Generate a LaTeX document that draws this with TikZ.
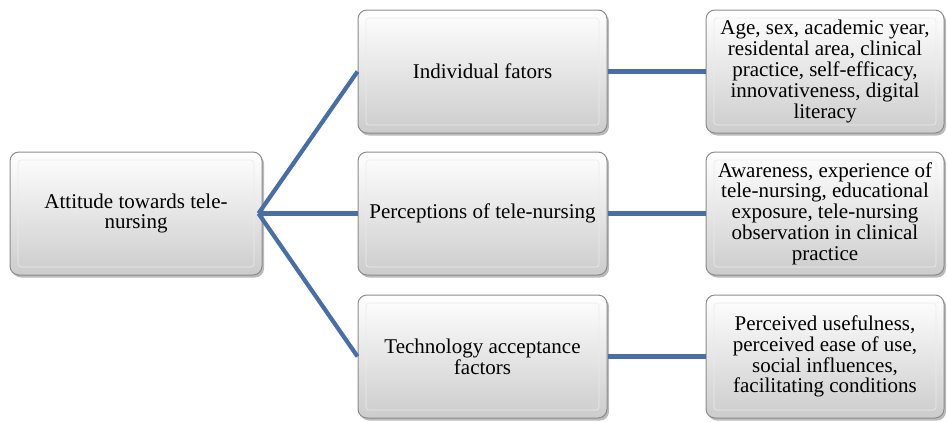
\documentclass[tikz,border=0pt]{standalone}
\usepackage{fontspec}
\setmainfont{Liberation Serif}
\usetikzlibrary{shadows}
\definecolor{linkblue}{RGB}{72,110,163}
\definecolor{boxedge}{RGB}{140,140,140}
\begin{document}
\begin{tikzpicture}[x=1pt,y=-1pt,
  panel/.style={rectangle, rounded corners=9pt, draw=boxedge, line width=1pt,
    top color=white, bottom color=black!20,
    drop shadow={shadow xshift=2pt, shadow yshift=-2.5pt, opacity=0.45, fill=black!60},
    minimum height=123pt, align=center, inner sep=0pt,
    font=\fontsize{21}{20.8}\selectfont,
    path picture={
      \draw[black!8, line width=0.6pt, rounded corners=3pt]
        ([shift={(8pt,-8pt)}]path picture bounding box.north west) rectangle
        ([shift={(-8pt,8pt)}]path picture bounding box.south east);
    }},
  rootbox/.style={panel, minimum width=252pt},
  midbox/.style={panel, minimum width=249pt},
  leafbox/.style={panel, minimum width=238pt},
  fan/.style={draw=linkblue, line width=4.2pt},
  link/.style={draw=linkblue, line width=5.5pt}]
\useasboundingbox (0,0) rectangle (947,421);

% root of the tree
\node[rootbox] (root) at (136,213.5) {Attitude towards tele-\\nursing};

% middle column: groups of factors
\node[midbox] (ind) at (482.5,71.5) {Individual fators};
\node[midbox] (per) at (482.5,213.5) {Perceptions of tele-nursing};
\node[midbox] (tec) at (482.5,356.5) {Technology acceptance\\factors};

% right column: the variables in each group
\node[leafbox] (indv) at (825,71.5) {Age, sex, academic year,\\residental area, clinical\\practice, self-efficacy,\\innovativeness, digital\\literacy};
\node[leafbox] (perv) at (825,213.5) {Awareness, experience of\\tele-nursing, educational\\exposure, tele-nursing\\observation in clinical\\practice};
\node[leafbox] (tecv) at (825,356.5) {Perceived usefulness,\\perceived ease of use,\\social influences,\\facilitating conditions};

% connectors
\coordinate (hub) at ([xshift=-4pt]root.east);
\draw[fan] (hub) -- (ind.west);
\draw[fan] (hub) -- (per.west);
\draw[fan] (hub) -- (tec.west);
\draw[link] (ind.east) -- (indv.west);
\draw[link] (per.east) -- (perv.west);
\draw[link] (tec.east) -- (tecv.west);
\end{tikzpicture}
\end{document}
